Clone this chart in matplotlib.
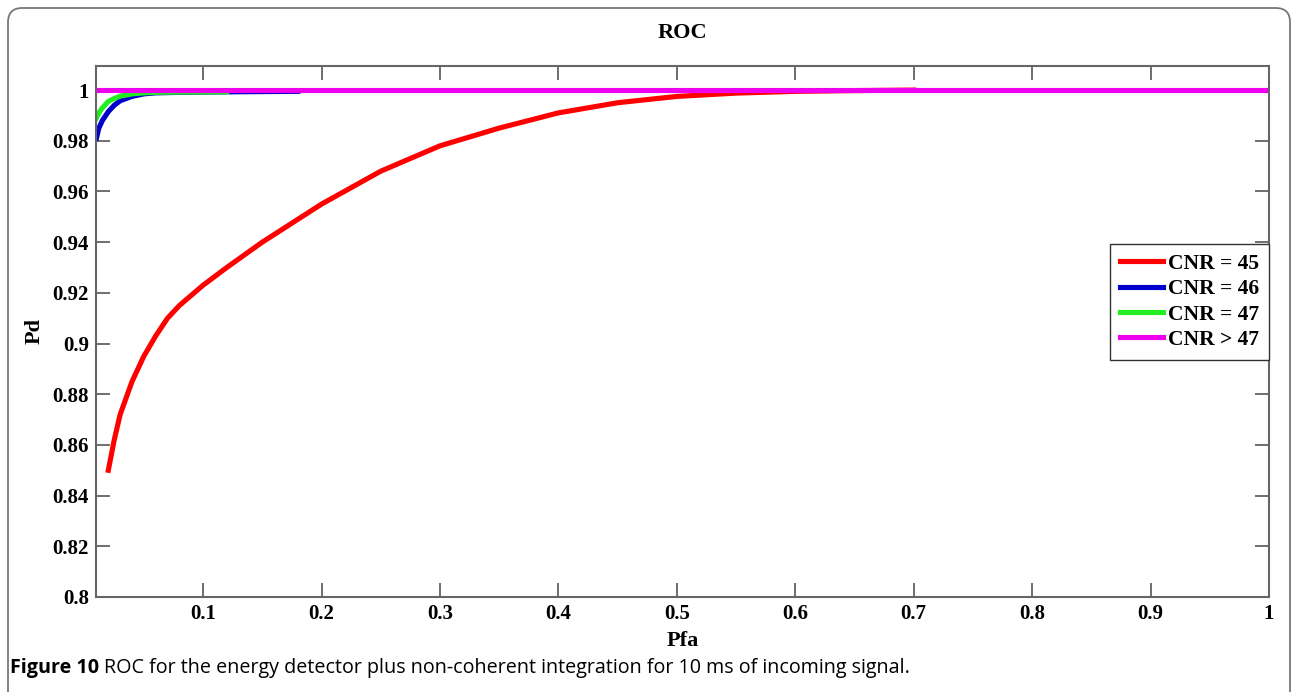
import numpy as np
import matplotlib
matplotlib.use('Agg')
import matplotlib.pyplot as plt
from matplotlib.patches import FancyBboxPatch

# Data
pfa_45 = [0.02, 0.025, 0.03, 0.04, 0.05, 0.06, 0.07, 0.08, 0.1, 0.12, 0.15, 0.2, 0.25,
          0.3, 0.35, 0.4, 0.45, 0.5, 0.55, 0.6, 0.65, 0.7]
pd_45 = [0.850, 0.862, 0.872, 0.885, 0.895, 0.903, 0.910, 0.915, 0.923, 0.930, 0.940,
         0.955, 0.968, 0.978, 0.985, 0.991, 0.995, 0.9975, 0.9988, 0.9995, 0.9998, 1.0]
pfa_46 = [0.01, 0.012, 0.015, 0.02, 0.025, 0.03, 0.04, 0.05, 0.06, 0.08, 0.12, 0.18]
pd_46 = [0.981, 0.985, 0.988, 0.9915, 0.994, 0.9958, 0.9975, 0.9985, 0.9989, 0.9991, 0.9993, 0.9995]
pfa_47 = [0.01, 0.012, 0.015, 0.02, 0.025, 0.03, 0.04, 0.05, 0.06, 0.08, 0.12]
pd_47 = [0.989, 0.991, 0.993, 0.9955, 0.9967, 0.9976, 0.9985, 0.9989, 0.9991, 0.9992, 0.9993]
pfa_gt = [0.01, 1.0]
pd_gt = [1.0, 1.0]

labels = ['CNR = 45', 'CNR = 46', 'CNR = 47', 'CNR > 47']
colors = ['#ff0000', '#0000cc', '#22ee22', '#ee00ee']

serif = 'Liberation Serif'

fig = plt.figure(figsize=(12.92, 6.92), dpi=100)
ax = fig.add_axes([96/1292, 1 - 597/692, (1269-96)/1292, (597-66)/692])

ax.plot(pfa_45, pd_45, color=colors[0], lw=3.7, label=labels[0])
ax.plot(pfa_46, pd_46, color=colors[1], lw=3.7, label=labels[1])
ax.plot(pfa_47, pd_47, color=colors[2], lw=3.7, label=labels[2])
ax.plot(pfa_gt, pd_gt, color=colors[3], lw=3.7, label=labels[3])

ax.set_xlim(0.0096, 1.0)
ax.set_ylim(0.8, 1.0095)
xt = np.round(np.arange(0.1, 1.01, 0.1), 1)
ax.set_xticks(xt)
ax.set_xticklabels(['0.1', '0.2', '0.3', '0.4', '0.5', '0.6', '0.7', '0.8', '0.9', '1'])
yt = np.round(np.arange(0.8, 1.001, 0.02), 2)
ax.set_yticks(yt)
ax.set_yticklabels(['0.8', '0.82', '0.84', '0.86', '0.88', '0.9', '0.92', '0.94', '0.96', '0.98', '1'])
ax.tick_params(direction='in', length=10, width=1.2, color='#555555',
               top=True, right=True, labelsize=15, pad=5)
for lab in ax.get_xticklabels() + ax.get_yticklabels():
    lab.set_fontfamily(serif)
    lab.set_fontweight('bold')
for s in ax.spines.values():
    s.set_color('#666666')
    s.set_linewidth(1.5)

ax.set_title('ROC', fontfamily=serif, fontweight='bold', fontsize=16, pad=20)
ax.set_xlabel('Pfa', fontfamily=serif, fontweight='bold', fontsize=16, labelpad=5)
ax.set_ylabel('Pd', fontfamily=serif, fontweight='bold', fontsize=16, labelpad=6)

leg = ax.legend(loc='center right', bbox_to_anchor=(1.0, 0.556), fancybox=False,
                edgecolor='#333333', framealpha=1, handlelength=2.0, borderpad=0.45,
                labelspacing=0.25, handletextpad=0.25, borderaxespad=0,
                prop={'family': serif, 'weight': 'bold', 'size': 15.5})
leg.get_frame().set_linewidth(1.0)

# rounded frame around the figure
frame = FancyBboxPatch((8/1292, -0.1), (1290-8)/1292, 1.1 - 8/692,
                       boxstyle='round,pad=0,rounding_size=0.011',
                       mutation_aspect=1292/692,
                       transform=fig.transFigure, fill=False,
                       edgecolor='#777777', lw=1.3, clip_on=False)
fig.patches.append(frame)

# caption
t1 = fig.text(10/1292, 1 - 668/692, 'Figure 10', fontfamily='Open Sans',
              fontweight='bold', fontsize=14.2, va='center', ha='left')
fig.canvas.draw()
bb = t1.get_window_extent()
fig.text((bb.x1 + 5) / 1292, 1 - 668/692,
         'ROC for the energy detector plus non-coherent integration for 10 ms of incoming signal.',
         fontfamily='Open Sans', fontsize=14.2, va='center', ha='left')

fig.savefig('out.png', dpi=100)
